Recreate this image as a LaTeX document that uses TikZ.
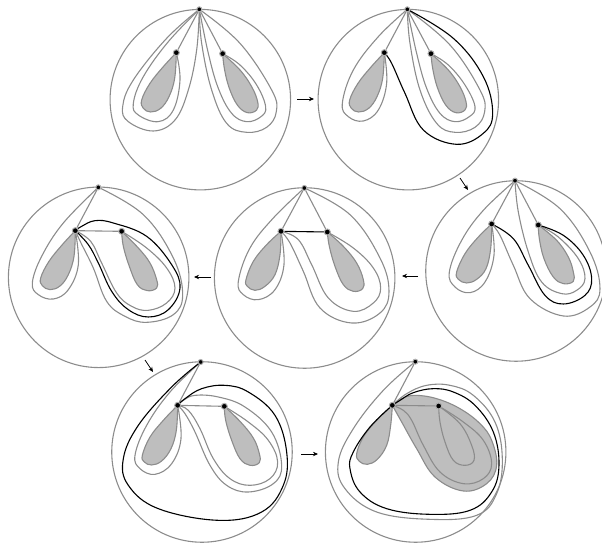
\documentclass[tikz,border=0pt]{standalone}
\usepackage{xcolor}
\usepackage{tikz}
\usetikzlibrary{arrows.meta,backgrounds}
\definecolor{rimgray}{HTML}{8C8C8C}
\definecolor{leafgray}{HTML}{BEBEBE}
\tikzset{
  panel/.style 2 args={xshift=#1pt,yshift=-#2pt,x=.3333pt,y=-.3333pt},
  disk/.style={circle,draw=rimgray,line width=1.1pt,minimum size=180.5pt,inner sep=0pt},
  spot/.style={circle,fill=black,draw=rimgray!70,line width=1pt,minimum size=6pt,inner sep=0pt},
  apexspot/.style={circle,fill=black,draw=rimgray!70,line width=1pt,minimum size=5pt,inner sep=0pt},
  strand/.style={draw=rimgray,line width=1.1pt},
  boldstrand/.style={draw=black,line width=1.1pt},
  leaf/.style={fill=leafgray,draw=rimgray,line width=1.1pt},
  step arrow/.style={-{Stealth[length=5pt,width=4.4pt]},line width=.8pt,draw=black},
  smoothed/.style={smooth,tension=.65}
}

\begin{document}
\begin{tikzpicture}[x=1pt,y=-1pt]
  \useasboundingbox (0,0) rectangle (602,543);

  % first state
  \begin{scope}[panel={100}{0}]
    \node[disk] (disk1) at (301,299) {};
    \node[apexspot] (apex1) at (298,28) {};
    \node[spot] (left1) at (229,158) {};
    \node[spot] (right1) at (368,161) {};
    \begin{pgfonlayer}{background}
      \path[leaf] plot[smoothed] coordinates {(left1) (190,200) (150,250) (125,300) (130,325) (152,336) (182,325) (207,290) (224,235) (left1)};
      \path[leaf] plot[smoothed] coordinates {(right1) (373,205) (387,262) (412,315) (442,338) (470,330) (473,305) (455,260) (420,210) (right1)};
      \draw[strand] (apex1) -- (left1);
      \draw[strand] (apex1) -- (right1);
      \path[strand] plot[smoothed] coordinates {(apex1) (200,115) (100,240) (68,320) (85,365) (160,393) (225,360) (265,270) (290,150) (apex1)};
      \path[strand] plot[smoothed] coordinates {(apex1) (205,125) (130,230) (100,310) (115,345) (175,365) (220,330) (240,240) (left1)};
      \path[strand] plot[smoothed] coordinates {(apex1) (305,130) (335,270) (380,370) (440,397) (500,382) (529,335) (515,270) (420,130) (apex1)};
      \path[strand] plot[smoothed] coordinates {(apex1) (325,160) (355,265) (395,340) (440,365) (483,350) (497,320) (470,255) (420,195) (right1)};
    \end{pgfonlayer}
  \end{scope}

  % second state
  \begin{scope}[panel={310}{0}]
    \node[disk] (disk2) at (295,299) {};
    \node[apexspot] (apex2) at (292,28) {};
    \node[spot] (left2) at (223,158) {};
    \node[spot] (right2) at (363,161) {};
    \begin{pgfonlayer}{background}
      \path[leaf] plot[smoothed] coordinates {(left2) (184,200) (144,250) (119,300) (124,325) (146,336) (176,325) (201,290) (218,235) (left2)};
      \path[leaf] plot[smoothed] coordinates {(right2) (368,205) (382,262) (407,315) (437,338) (465,330) (468,305) (450,260) (415,210) (right2)};
      \draw[strand] (apex2) -- (left2);
      \draw[strand] (apex2) -- (right2);
      \path[strand] plot[smoothed] coordinates {(apex2) (205,110) (130,210) (97,310) (115,350) (160,363) (205,330) (230,250) (left2)};
      \path[strand] plot[smoothed] coordinates {(apex2) (300,130) (330,270) (380,370) (435,397) (495,382) (524,335) (510,270) (420,135) (apex2)};
      \path[strand] plot[smoothed] coordinates {(apex2) (320,160) (350,265) (390,340) (435,365) (478,350) (495,320) (465,255) (415,195) (right2)};
      \path[boldstrand] plot[smoothed] coordinates {(left2) (245,190) (285,280) (340,390) (440,433) (520,400) (548,340) (520,230) (430,115) (apex2)};
    \end{pgfonlayer}
  \end{scope}

  % third state
  \begin{scope}[panel={420}{172}]
    \node[disk] (disk3) at (288,297) {};
    \node[apexspot] (apex3) at (285,26) {};
    \node[spot] (left3) at (215,156) {};
    \node[spot] (right3) at (355,159) {};
    \begin{pgfonlayer}{background}
      \path[leaf] plot[smoothed] coordinates {(left3) (175,195) (135,245) (110,300) (115,322) (140,333) (170,322) (198,290) (212,230) (left3)};
      \path[leaf] plot[smoothed] coordinates {(right3) (358,200) (372,260) (400,315) (430,335) (460,328) (460,300) (445,255) (410,205) (right3)};
      \draw[strand] (apex3) -- (left3);
      \draw[strand] (apex3) -- (right3);
      \path[strand] plot[smoothed] coordinates {(apex3) (190,115) (125,205) (88,300) (105,345) (150,362) (195,330) (222,250) (left3)};
      \path[strand] plot[smoothed] coordinates {(apex3) (295,120) (325,240) (365,330) (425,365) (470,355) (495,320) (475,260) (415,195) (right3)};
      \path[boldstrand] plot[smoothed] coordinates {(right3) (430,190) (490,250) (515,320) (495,370) (430,396) (375,370) (325,280) (280,200) (left3)};
      \path[strand] plot[smoothed] coordinates {(left3) (240,190) (280,280) (330,380) (430,432) (510,405) (540,350) (510,240) (420,110) (apex3)};
    \end{pgfonlayer}
  \end{scope}

  % fourth state
  \begin{scope}[panel={210}{178}]
    \node[disk] (disk4) at (284,300) {};
    \node[apexspot] (apex4) at (283,30) {};
    \node[spot] (left4) at (213,160) {};
    \node[spot] (right4) at (352,162) {};
    \begin{pgfonlayer}{background}
      \path[leaf] plot[smoothed] coordinates {(left4) (170,200) (130,250) (108,305) (112,325) (135,337) (165,325) (195,290) (210,230) (left4)};
      \path[leaf] plot[smoothed] coordinates {(right4) (358,205) (375,265) (400,320) (430,340) (458,332) (460,305) (440,255) (400,205) (right4)};
      \draw[strand] (apex4) -- (left4);
      \draw[strand] (apex4) -- (right4);
      \draw[boldstrand] (left4) -- (right4);
      \path[strand] plot[smoothed] coordinates {(apex4) (190,120) (120,210) (85,310) (100,350) (145,365) (195,335) (222,260) (left4)};
      \path[strand] plot[smoothed] coordinates {(left4) (265,185) (305,260) (355,360) (430,400) (490,375) (512,330) (490,270) (430,210) (right4)};
      \path[strand] plot[smoothed] coordinates {(left4) (240,195) (280,280) (330,390) (425,435) (510,405) (537,340) (510,240) (420,110) (apex4)};
    \end{pgfonlayer}
  \end{scope}

  % fifth state
  \begin{scope}[panel={0}{178}]
    \node[disk] (disk5) at (296,298) {};
    \node[apexspot] (apex5) at (295,28) {};
    \node[spot] (left5) at (226,158) {};
    \node[spot] (right5) at (365,160) {};
    \begin{pgfonlayer}{background}
      \path[leaf] plot[smoothed] coordinates {(left5) (187,200) (147,250) (122,300) (127,323) (150,335) (180,324) (205,290) (222,235) (left5)};
      \path[leaf] plot[smoothed] coordinates {(right5) (370,205) (388,265) (412,320) (442,338) (470,330) (470,305) (450,255) (415,210) (right5)};
      \draw[strand] (apex5) -- (left5);
      \draw[strand] (left5) -- (right5);
      \path[strand] plot[smoothed] coordinates {(apex5) (190,135) (125,235) (97,315) (115,350) (160,363) (205,335) (235,260) (left5)};
      \path[strand] plot[smoothed] coordinates {(left5) (272,190) (305,255) (350,345) (395,385) (445,397) (500,375) (525,330) (500,270) (440,210) (right5)};
      \path[boldstrand] plot[smoothed] coordinates {(left5) (265,200) (295,255) (335,340) (385,395) (445,417) (505,395) (540,330) (515,260) (440,175) (340,135) (285,128) (245,145) (left5)};
      \path[strand] plot[smoothed] coordinates {(left5) (243,195) (280,270) (320,370) (375,415) (440,433) (520,410) (548,350) (520,240) (430,110) (apex5)};
    \end{pgfonlayer}
  \end{scope}

  % sixth state
  \begin{scope}[panel={105}{352}]
    \node[disk] (disk6) at (291,300) {};
    \node[apexspot] (apex6) at (287,30) {};
    \node[spot] (left6) at (218,160) {};
    \node[spot] (right6) at (358,163) {};
    \begin{pgfonlayer}{background}
      \path[leaf] plot[smoothed] coordinates {(left6) (175,205) (135,255) (112,310) (118,330) (140,339) (170,327) (198,290) (214,235) (left6)};
      \path[leaf] plot[smoothed] coordinates {(right6) (362,205) (380,265) (405,320) (435,340) (463,332) (463,305) (445,258) (405,208) (right6)};
      \draw[strand] (apex6) -- (left6);
      \draw[strand] (left6) -- (right6);
      \path[strand] plot[smoothed] coordinates {(apex6) (195,120) (125,220) (90,310) (105,350) (150,367) (200,335) (228,260) (left6)};
      \path[strand] plot[smoothed] coordinates {(left6) (250,175) (285,230) (325,320) (375,380) (435,400) (495,380) (518,330) (490,265) (430,210) (right6)};
      \path[strand] plot[smoothed] coordinates {(left6) (240,185) (270,240) (315,340) (365,400) (430,420) (505,395) (530,340) (500,240) (420,165) (340,135) (270,130) (235,145) (left6)};
      \path[boldstrand] plot[smoothed] coordinates {(apex6) (200,105) (100,220) (55,320) (70,400) (160,470) (340,505) (470,480) (535,400) (545,300) (510,190) (430,120) (360,100) (290,110) (240,140) (left6)};
    \end{pgfonlayer}
  \end{scope}

  % last state
  \begin{scope}[panel={320}{352}]
    \node[disk] (disk7) at (287,300) {};
    \node[apexspot] (apex7) at (286,29) {};
    \node[spot] (left7) at (217,160) {};
    \node[spot] (right7) at (356,162) {};
    \begin{pgfonlayer}{background}
      \path[leaf] plot[smoothed] coordinates {(left7) (170,205) (130,255) (110,305) (118,328) (142,337) (172,322) (200,280) (212,220) (left7)};
      \path[leaf] plot[smoothed] coordinates {(left7) (245,210) (290,290) (345,375) (430,417) (500,395) (530,340) (515,265) (480,215) (420,170) (350,140) (285,130) (245,140) (left7)};
      \draw[strand] (apex7) -- (left7);
      \draw[strand] (left7) -- (right7);
      \path[strand] plot[smoothed] coordinates {(right7) (360,210) (375,270) (400,325) (435,340) (462,325) (455,280) (420,215) (right7)};
      \path[strand] plot[smoothed] coordinates {(left7) (250,175) (275,205) (310,280) (360,360) (430,395) (490,380) (515,335) (490,265) (430,210) (right7)};
      \path[strand] plot[smoothed] coordinates {(apex7) (190,115) (100,230) (55,330) (75,410) (170,480) (330,502) (470,490) (530,425) (547,320) (525,210) (460,130) (390,100) (320,100) (260,125) (left7)};
      \path[boldstrand] plot[smoothed] coordinates {(left7) (150,225) (100,300) (90,350) (120,420) (200,470) (330,487) (450,475) (515,420) (537,340) (520,240) (465,160) (400,120) (340,110) (280,122) (240,145) (left7)};
    \end{pgfonlayer}
  \end{scope}

  % arrows between the states
  \coordinate (s12) at (297,99);
  \coordinate (t12) at (314,99);
  \coordinate (s23) at (460,178);
  \coordinate (t23) at (468,190);
  \coordinate (s34) at (418,276);
  \coordinate (t34) at (402,276);
  \coordinate (s45) at (211,277);
  \coordinate (t45) at (194,277);
  \coordinate (s56) at (145,360);
  \coordinate (t56) at (153,372);
  \coordinate (s67) at (301,454);
  \coordinate (t67) at (318,454);
  \draw[step arrow] (s12) -- (t12);
  \draw[step arrow] (s23) -- (t23);
  \draw[step arrow] (s34) -- (t34);
  \draw[step arrow] (s45) -- (t45);
  \draw[step arrow] (s56) -- (t56);
  \draw[step arrow] (s67) -- (t67);
\end{tikzpicture}
\end{document}
